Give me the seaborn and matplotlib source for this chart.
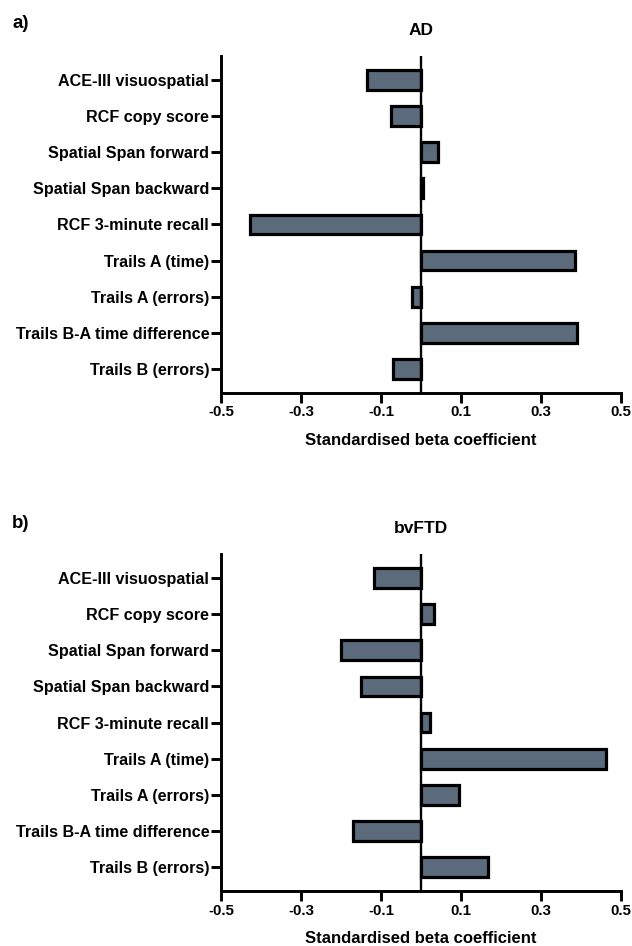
import matplotlib
matplotlib.use("Agg")
import matplotlib.pyplot as plt
import seaborn as sns
import pandas as pd

sns.set_style("ticks")
plt.rcParams["font.family"] = ["Liberation Sans", "DejaVu Sans"]
plt.rcParams["font.weight"] = "bold"
plt.rcParams["text.color"] = "black"
plt.rcParams["axes.labelcolor"] = "black"
plt.rcParams["xtick.color"] = "black"
plt.rcParams["ytick.color"] = "black"

# Cognitive measures (y categories, top to bottom)
measures = [
    "ACE-III visuospatial",
    "RCF copy score",
    "Spatial Span forward",
    "Spatial Span backward",
    "RCF 3-minute recall",
    "Trails A (time)",
    "Trails A (errors)",
    "Trails B-A time difference",
    "Trails B (errors)",
]

# Standardised beta coefficients per group
ad_beta = [-0.134, -0.076, 0.043, 0.004, -0.428, 0.384, -0.022, 0.390, -0.069]
bvftd_beta = [-0.118, 0.032, -0.201, -0.150, 0.022, 0.462, 0.094, -0.169, 0.167]

panel_letters = ["a)", "b)"]
panel_titles = ["AD", "bvFTD"]
x_ticks = [-0.5, -0.3, -0.1, 0.1, 0.3, 0.5]
x_label = "Standardised beta coefficient"

bar_color = "#5b6b7c"

fig = plt.figure(figsize=(6.32, 9.46), dpi=100)
ax_a = fig.add_axes([0.3497, 0.5846, 0.6329, 0.3562])
ax_b = fig.add_axes([0.3497, 0.0581, 0.6329, 0.3562])

panels = [
    (ax_a, ad_beta, panel_letters[0], panel_titles[0], 0.975),
    (ax_b, bvftd_beta, panel_letters[1], panel_titles[1], 0.447),
]

for ax, values, letter, title, letter_y in panels:
    df = pd.DataFrame({"measure": measures, "beta": values})
    sns.barplot(
        data=df, x="beta", y="measure", orient="h", ax=ax,
        color=bar_color, edgecolor="black", linewidth=2.3,
        width=0.55, saturation=1, zorder=2,
    )
    ax.axvline(0, color="black", lw=1.7, zorder=3)
    ax.set_xlim(-0.5, 0.5)
    ax.set_ylim(len(measures) - 1 + 0.67, -0.67)
    ax.set_xticks(x_ticks)
    ax.set_xticklabels([f"{t:.1f}" for t in x_ticks], fontsize=10.8,
                       fontweight="bold", color="black")
    ax.set_yticks(range(len(measures)))
    ax.set_yticklabels(measures, fontsize=11.6, fontweight="bold", color="black")
    ax.set_xlabel(x_label, fontsize=12, fontweight="bold", labelpad=10,
                  color="black")
    ax.set_ylabel("")
    ax.set_title(title, fontsize=12.5, fontweight="bold", pad=15, color="black")
    sns.despine(ax=ax)
    for side in ("left", "bottom"):
        ax.spines[side].set_linewidth(2.1)
        ax.spines[side].set_color("black")
    ax.tick_params(axis="both", length=7, width=2.1, color="black")
    ax.tick_params(axis="y", pad=1.5)
    ax.tick_params(axis="x", pad=2)
    fig.text(0.019, letter_y, letter, fontsize=13.5, fontweight="bold",
             va="center", color="black")

fig.savefig("out.png", dpi=100)
